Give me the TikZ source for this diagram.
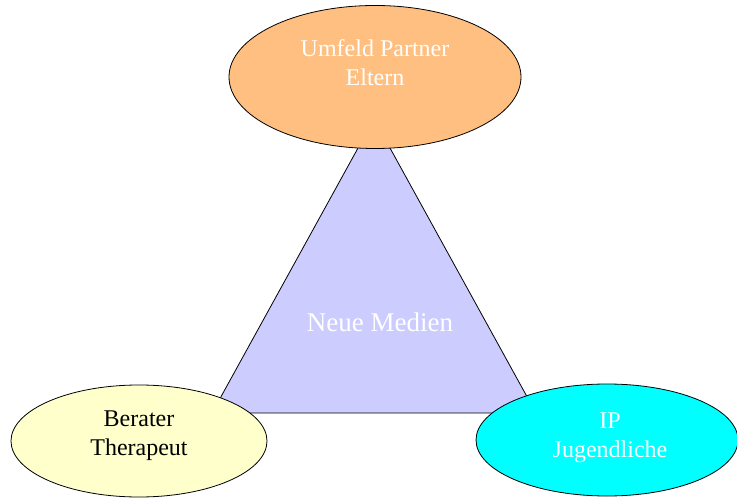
\documentclass[tikz,border=0pt]{standalone}
\usepackage{fontspec}
\setmainfont{Liberation Serif}
\usetikzlibrary{shapes.geometric}
\definecolor{orangeFill}{RGB}{255,191,128}
\definecolor{triFill}{RGB}{204,204,255}
\definecolor{yellowFill}{RGB}{255,255,204}
\definecolor{cyanFill}{RGB}{0,255,255}
\tikzset{
  blob/.style={ellipse, draw=black, line width=0.6pt, inner sep=0pt},
  lbl/.style={align=center, inner sep=0pt, font=\fontsize{18}{21.75}\selectfont},
}
\begin{document}
\begin{tikzpicture}[x=0.75pt,y=-0.75pt]
\useasboundingbox (0,0) rectangle (737,498);
% triangle
\coordinate (apex) at (374,119);
\coordinate (bl) at (212,413);
\coordinate (br) at (536,413);
\fill[triFill] (apex) -- (bl) -- (br) -- cycle;
\draw[line width=0.6pt] (apex) -- (bl) -- (br) -- cycle;
\node[lbl, anchor=base, text=white, font=\fontsize{20.25}{24}\selectfont] (media) at (380,331) {Neue Medien};
% ellipses
\node[blob, fill=orangeFill, minimum width=219pt, minimum height=107.25pt] (umfeld) at (375,77) {};
\node[lbl, text=white] (umfeldText) at (375,62.3) {Umfeld Partner\\Eltern};
\node[blob, fill=yellowFill, minimum width=192pt, minimum height=84pt] (berater) at (139,441) {};
\node[lbl, text=black] (beraterText) at (139,435.5) {Berater\\Therapeut};
\node[blob, fill=cyanFill, minimum width=196.5pt, minimum height=84pt] (ip) at (607,440) {};
\node[lbl, text=white] (ipText) at (610,437.5) {IP\\Jugendliche};
\end{tikzpicture}
\end{document}
